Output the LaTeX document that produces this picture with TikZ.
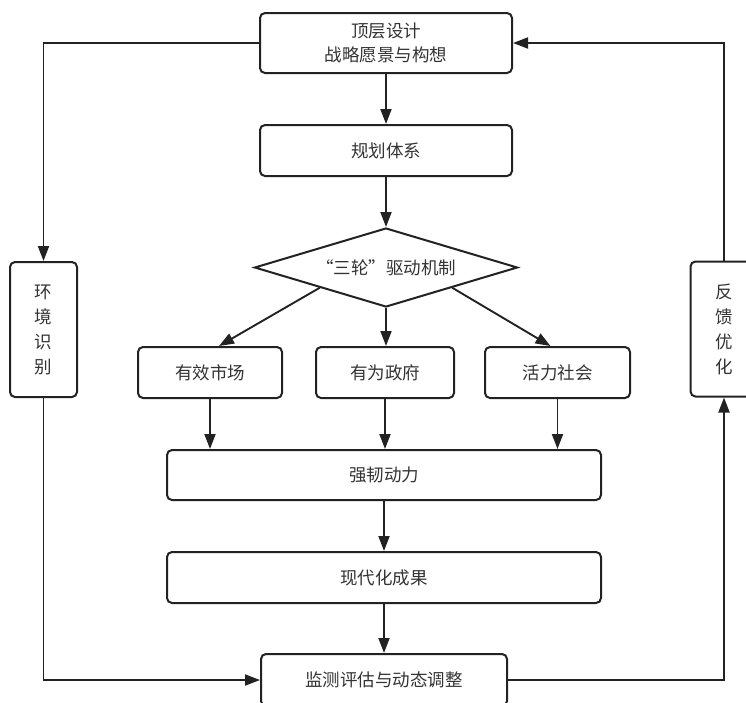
\documentclass[tikz,border=0pt]{standalone}
\usepackage{fontspec}
\setmainfont{Noto Sans CJK SC}
\usetikzlibrary{shapes.geometric,arrows.meta,calc}
\definecolor{linec}{HTML}{222222}
\definecolor{textc}{HTML}{333333}
\begin{document}
\begin{tikzpicture}[x=1pt,y=-1pt,
  box/.style={draw=linec, line width=2pt, rounded corners=5pt, inner sep=0pt,
    font=\fontsize{17.5}{24}\selectfont, text=textc, align=center},
  vbox/.style={box, font=\fontsize{17.5}{25}\selectfont},
  dia/.style={draw=linec, line width=2pt, shape=diamond, shape aspect=3.33, inner sep=0pt,
    font=\fontsize{17.5}{24}\selectfont, text=textc},
  arr/.style={draw=linec, line width=1.9pt, -{Triangle[length=15pt,width=11pt]}}]
\useasboundingbox (0,0) rectangle (746,702);
\node[box, minimum width=252pt, minimum height=60pt] (top) at (386,43) {顶层设计\\战略愿景与构想};
\node[box, minimum width=252pt, minimum height=51pt] (plan) at (386,150.5) {规划体系};
\node[dia, minimum width=263pt, minimum height=79pt] (mech) at (386,267.5) {“三轮”驱动机制};
\node[box, minimum width=144pt, minimum height=51pt] (mkt) at (210,372.5) {有效市场};
\node[box, minimum width=138pt, minimum height=51pt] (gov) at (385,372.5) {有为政府};
\node[box, minimum width=145pt, minimum height=51pt] (soc) at (557.5,372.5) {活力社会};
\node[box, minimum width=434pt, minimum height=50pt] (pow) at (384,475) {强韧动力};
\node[box, minimum width=434pt, minimum height=51pt] (res) at (384,577.5) {现代化成果};
\node[box, minimum width=246pt, minimum height=52pt] (mon) at (384,680) {监测评估与动态调整};
\node[vbox, minimum width=67pt, minimum height=135pt] (env) at (43.5,329.5) {环\\境\\识\\别};
\node[vbox, minimum width=67pt, minimum height=135pt] (fb) at (724,329) {反\\馈\\优\\化};
% central flow
\draw[arr] (top.south) -- (plan.north);
\draw[arr] (plan.south) -- (mech.north);
\draw[arr] (mech.south west) -- ($(mkt.north)+(9,0)$);
\draw[arr] (mech.south) -- (mech.south |- gov.north);
\draw[arr] (mech.south east) -- ($(soc.north)+(-7,0)$);
\draw[arr] (mkt.south) -- (mkt.south |- pow.north);
\draw[arr] (gov.south) -- (gov.south |- pow.north);
\draw[arr] (soc.south) -- (soc.south |- pow.north);
\draw[arr] (pow.south) -- (res.north);
\draw[arr] (res.south) -- (mon.north);
% outer loop
\draw[arr] (top.west) -| (env.north);
\draw[arr] (env.south) |- (mon.west);
\draw[arr] (mon.east) -| (fb.south);
\draw[arr] (fb.north) |- (top.east);
\end{tikzpicture}
\end{document}
